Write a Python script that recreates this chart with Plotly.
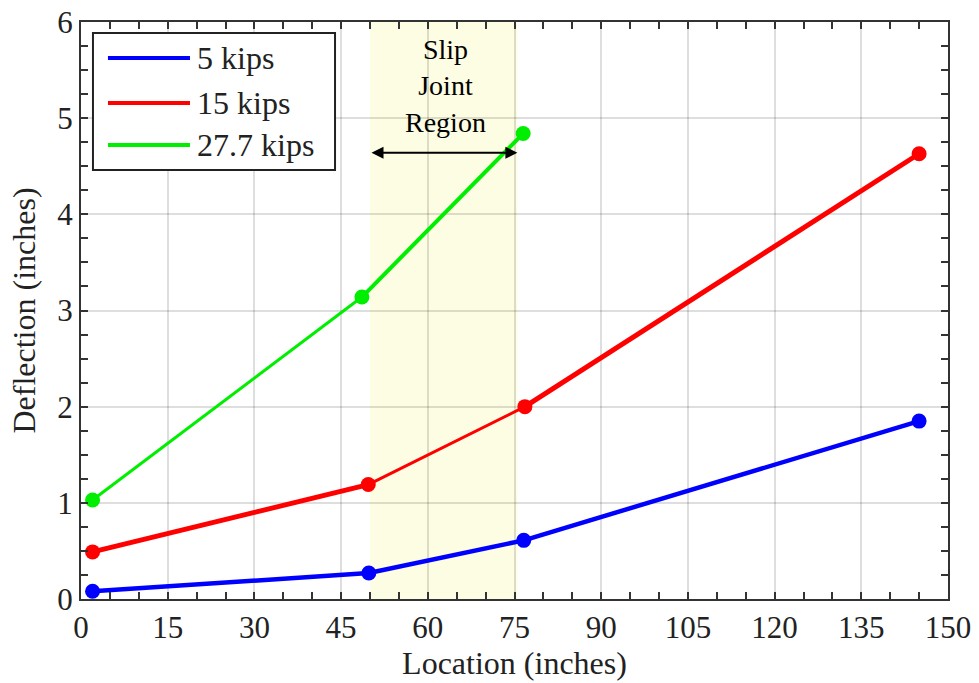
import plotly.graph_objects as go

# ---- data ----
series_names = ["5 kips", "15 kips", "27.7 kips"]
loc_5 = [2, 49.8, 76.6, 145]
defl_5 = [0.08, 0.27, 0.61, 1.85]
loc_15 = [2, 49.7, 76.8, 145]
defl_15 = [0.49, 1.19, 2.00, 4.63]
loc_27 = [2, 48.6, 76.5]
defl_27 = [1.03, 3.14, 4.84]
slip_region = [50, 75.5]
slip_label = "Slip<br>Joint<br>Region"
x_ticks = list(range(0, 151, 15))
y_ticks = list(range(0, 7))

# ---- styles ----
colors = ["#0000ff", "#ff0000", "#00ee00"]
seg_widths = [[4.5, 4.5, 4.5], [5, 3, 5], [3, 4]]
FONT = "Liberation Serif"

fig = go.Figure()

data = [(loc_5, defl_5), (loc_15, defl_15), (loc_27, defl_27)]
for i, (name, (xs, ys)) in enumerate(zip(series_names, data)):
    widths = seg_widths[i]
    for s in range(len(xs) - 1):
        fig.add_trace(go.Scatter(
            x=xs[s:s + 2], y=ys[s:s + 2], mode="lines",
            line=dict(color=colors[i], width=widths[s]),
            name=name, legendgroup=name, showlegend=False,
            hoverinfo="skip"))
    fig.add_trace(go.Scatter(
        x=xs, y=ys, mode="markers",
        marker=dict(color=colors[i], size=15),
        name=name, legendgroup=name, showlegend=False))

# slip joint band
fig.add_shape(type="rect", xref="x", yref="paper",
              x0=slip_region[0], x1=slip_region[1], y0=0, y1=1,
              fillcolor="#fdfde3", line=dict(width=0), layer="below")

# double-headed arrow across the slip region
fig.add_annotation(x=slip_region[1], y=4.64, ax=slip_region[0], ay=4.64,
                   xref="x", yref="y", axref="x", ayref="y",
                   text="", showarrow=True, arrowhead=2, arrowside="end+start",
                   arrowsize=1.2, arrowwidth=2, arrowcolor="black")
fig.add_annotation(x=(slip_region[0] + slip_region[1]) / 2 + 0.3, y=5.33,
                   xref="x", yref="y", text=slip_label, showarrow=False,
                   font=dict(family=FONT, size=28, color="black"),
                   align="center")

# legend box drawn in paper coordinates (long line samples as in reference)
leg_box = dict(x0=0.0138, x1=0.293, y0=0.7435, y1=0.981)
leg_line_x = (0.0311, 0.1257)
leg_text_x = 0.1315
leg_rows_y = [0.9376, 0.8596, 0.7868]
fig.add_shape(type="rect", xref="paper", yref="paper", **leg_box,
              fillcolor="white", line=dict(color="#222", width=2), layer="above")
for name, col, ly in zip(series_names, colors, leg_rows_y):
    fig.add_shape(type="line", xref="paper", yref="paper",
                  x0=leg_line_x[0], x1=leg_line_x[1], y0=ly, y1=ly,
                  line=dict(color=col, width=4), layer="above")
    fig.add_annotation(x=leg_text_x, y=ly, xref="paper", yref="paper",
                       text=name, showarrow=False, xanchor="left",
                       yanchor="middle",
                       font=dict(family=FONT, size=32, color="#222"))

axis_common = dict(
    showline=True, linecolor="#333", linewidth=2, mirror="ticks",
    ticks="inside", ticklen=7, tickwidth=2, tickcolor="#333",
    showgrid=True, gridcolor="rgba(0,0,0,0.13)", gridwidth=2,
    zeroline=False,
    tickfont=dict(family=FONT, size=31, color="#222"),
)

fig.update_xaxes(range=[0, 150], tickvals=x_ticks,
                 minor=dict(dtick=5, ticks="inside", ticklen=7, tickwidth=2,
                            tickcolor="#333", showgrid=False),
                 title=dict(text="Location (inches)",
                            font=dict(family=FONT, size=32, color="#222"),
                            standoff=4),
                 **axis_common)
fig.update_yaxes(range=[0, 6], tickvals=y_ticks,
                 minor=dict(dtick=0.25, ticks="inside", ticklen=7, tickwidth=2,
                            tickcolor="#333", showgrid=False),
                 title=dict(text="Deflection (inches)",
                            font=dict(family=FONT, size=32, color="#222"),
                            standoff=12),
                 **axis_common)

fig.update_layout(
    width=979, height=683,
    margin=dict(l=81, r=31, t=22, b=84, autoexpand=False),
    paper_bgcolor="white", plot_bgcolor="white",
    showlegend=False,
)

# remove the default 8px page margin so the figure fills the window exactly
fig.write_html("out.html",
               config={"displayModeBar": False},
               post_script="document.body.style.margin='0';"
                           "document.body.style.overflow='hidden';")
